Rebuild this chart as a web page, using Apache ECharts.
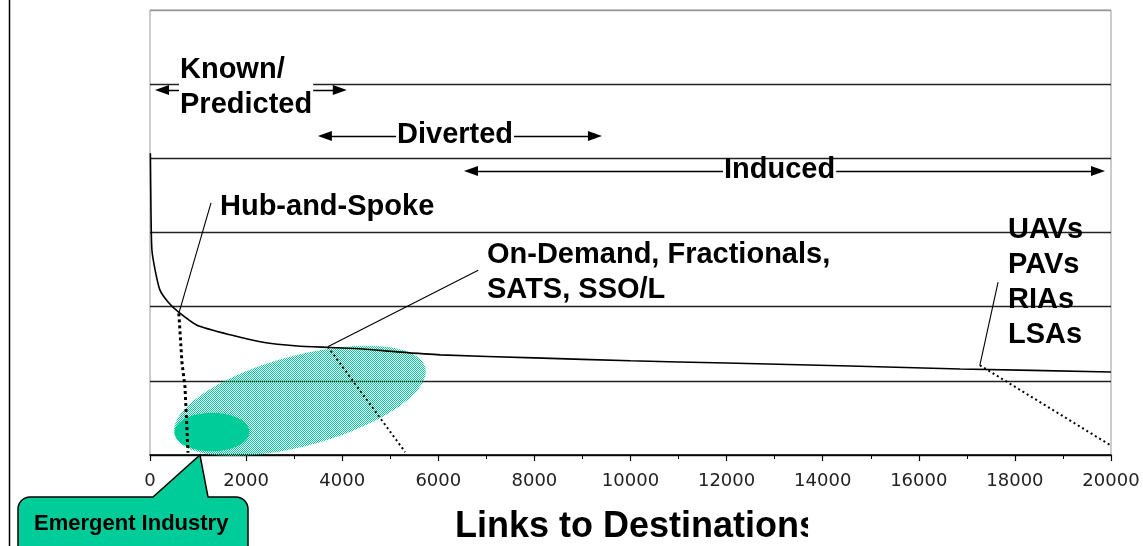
<!DOCTYPE html>
<html><head><meta charset="utf-8">
<script src="https://cdn.jsdelivr.net/npm/echarts@6/dist/echarts.min.js"></script>
<style>html,body{margin:0;padding:0;background:#fff}#c{width:1143px;height:546px}</style>
</head><body><div id="c"></div>
<script>
// ---- data ----
const xTickValues = [0, 2000, 4000, 6000, 8000, 10000, 12000, 14000, 16000, 18000, 20000];
const curveX = [8, 20, 40, 120, 210, 380, 590, 980, 1670, 2350, 3060, 3750, 4430, 5140, 6040, 8000, 10000, 12000, 14570, 16860, 20000];
const curveY = [4.07, 3.30, 2.76, 2.45, 2.22, 2.06, 1.93, 1.75, 1.62, 1.52, 1.47, 1.45, 1.43, 1.39, 1.35, 1.31, 1.27, 1.24, 1.20, 1.16, 1.12];
const hubLeaderX = [1270, 600];   const hubLeaderY = [3.40, 1.91];
const hubDottedX = [600, 666, 728, 791]; const hubDottedY = [1.91, 1.24, 0.92, 0.03];
const odLeaderX = [6830, 3700];   const odLeaderY = [2.49, 1.46];
const odDottedX = [3700, 5310];   const odDottedY = [1.46, 0.04];
const uavLeaderX = [17650, 17270]; const uavLeaderY = [2.33, 1.21];
const uavDottedX = [17270, 19980]; const uavDottedY = [1.21, 0.135];
const rangeStart = [250, 3640, 6680];
const rangeEnd = [3950, 9260, 19730];
const rangeLevel = [4.92, 4.30, 3.83];
const ellipseCX = [3120, 1290];
const ellipseCY = [0.73, 0.31];
const ellipseRX = [2700, 780];
const ellipseRY = [0.61, 0.26];
const ellipseTilt = [15, 0];
const calloutTip = [1040, 0];
const labelsRange = ['Known/\nPredicted', 'Diverted', 'Induced'];
const labelHub = 'Hub-and-Spoke';
const labelOD = 'On-Demand, Fractionals,\nSATS, SSO/L';
const labelUAV = 'UAVs\nPAVs\nRIAs\nLSAs';
const labelCallout = 'Emergent Industry';
const axisTitle = 'Links to Destinations';

const TEAL = '#00CC99';
const FONT = '"Liberation Sans", Arial, sans-serif';

const pc = document.createElement('canvas');
pc.width = 2; pc.height = 2;
const pg = pc.getContext('2d');
pg.fillStyle = TEAL; pg.fillRect(0, 0, 1, 1); pg.fillRect(1, 1, 1, 1);
const hatch = { image: pc, repeat: 'repeat' };

const zip = (xs, ys) => xs.map((x, i) => [x, ys[i]]);
const lineSeries = (xs, ys, width, type) => ({
  type: 'line', data: zip(xs, ys), showSymbol: false, silent: true, z: 4,
  lineStyle: { color: '#000', width: width, type: type }, animation: false
});

const chart = echarts.init(document.getElementById('c'));
chart.setOption({
  animation: false,
  grid: { left: 150, right: 32, top: 10, bottom: 91, show: true, borderColor: '#999', borderWidth: 1 },
  xAxis: {
    type: 'value', min: 0, max: 20000, interval: 2000,
    axisLine: { lineStyle: { color: '#000', width: 1.5 } },
    axisTick: { show: true, length: 6, lineStyle: { color: '#000', width: 1.2 } },
    minorTick: { show: true, splitNumber: 2, length: 4, lineStyle: { color: '#000', width: 1 } },
    splitLine: { show: false },
    axisLabel: { color: '#222', fontFamily: '"DejaVu Sans", sans-serif', fontSize: 18, margin: 17,
      formatter: v => xTickValues.includes(v) ? String(v) : '' }
  },
  yAxis: {
    type: 'value', min: 0, max: 6, interval: 1,
    axisLine: { show: false }, axisTick: { show: false }, axisLabel: { show: false },
    splitLine: { show: true, lineStyle: { color: ['#222', '#222', '#222', '#222', '#222', '#222', '#999'], width: 1.3 } }
  },
  series: [
    {
      type: 'custom', silent: true, z: 1,
      data: ellipseCX.map((x, i) => [x, ellipseCY[i], ellipseRX[i], ellipseRY[i], ellipseTilt[i], i]),
      renderItem: (params, api) => {
        const c = api.coord([api.value(0), api.value(1)]);
        const s = api.size([api.value(2), api.value(3)]);
        const t = api.value(4) * Math.PI / 180;
        const pts = [];
        for (let k = 0; k < 120; k++) {
          const a = 2 * Math.PI * k / 120;
          const px = s[0] * Math.cos(a), py = s[1] * Math.sin(a);
          pts.push([c[0] + px * Math.cos(t) + py * Math.sin(t), c[1] - px * Math.sin(t) + py * Math.cos(t)]);
        }
        return { type: 'polygon', shape: { points: pts }, style: { fill: api.value(5) === 0 ? hatch : TEAL } };
      }
    },
    Object.assign(lineSeries(curveX, curveY, 1.6, 'solid'), { smooth: 0.2 }),
    lineSeries(hubLeaderX, hubLeaderY, 1.1, 'solid'),
    lineSeries(odLeaderX, odLeaderY, 1.1, 'solid'),
    lineSeries(uavLeaderX, uavLeaderY, 1.1, 'solid'),
    lineSeries(hubDottedX, hubDottedY, 3, [3, 3]),
    lineSeries(odDottedX, odDottedY, 2, [2, 3]),
    lineSeries(uavDottedX, uavDottedY, 2, [2, 3]),
    {
      type: 'line', data: [], silent: true, z: 5,
      markLine: {
        silent: true, symbol: ['triangle', 'triangle'], symbolSize: [10, 14],
        label: { show: false },
        lineStyle: { color: '#000', width: 1.3, type: 'solid' },
        data: rangeStart.map((s, i) => [{ coord: [s, rangeLevel[i]] }, { coord: [rangeEnd[i], rangeLevel[i]] }])
      }
    }
  ]
});

const tip = chart.convertToPixel({ gridIndex: 0 }, calloutTip);
const ctx = document.createElement('canvas').getContext('2d');
ctx.font = 'bold 36px "Liberation Sans"';
const titleLeft = 455;
const maskX = titleLeft + ctx.measureText('Links to Destination').width + ctx.measureText('s').width * 0.45;

// callout outline (rounded box with pointer)
const bx0 = 18, bx1 = 248, by0 = 497, by1 = 560, br = 12;
const callPts = [[bx0 + br, by0], [153, by0], [tip[0], tip[1]], [208, by0], [bx1 - br, by0]];
for (let k = 1; k <= 8; k++) { const a = -Math.PI / 2 + k * Math.PI / 16; callPts.push([bx1 - br + br * Math.cos(a), by0 + br + br * Math.sin(a)]); }
callPts.push([bx1, by1], [bx0, by1]);
for (let k = 0; k < 8; k++) { const a = Math.PI + k * Math.PI / 16; callPts.push([bx0 + br + br * Math.cos(a), by0 + br + br * Math.sin(a)]); }

const txt = (text, x, y, size, extra) => ({
  type: 'text', x: x, y: y, z: 100,
  style: Object.assign({ text: text, fontFamily: FONT, fontWeight: 'bold', fontSize: size, fill: '#000',
    align: 'left', verticalAlign: 'middle' }, extra || {})
});

chart.setOption({
  graphic: [
    { type: 'line', z: 100, shape: { x1: 9.5, y1: 0, x2: 9.5, y2: 546 }, style: { stroke: '#000', lineWidth: 1.5 } },
    txt(labelsRange[0], 179, 87, 29, { lineHeight: 35, backgroundColor: '#fff', padding: [0, 1, 0, 1] }),
    txt(labelsRange[1], 396, 135, 29, { backgroundColor: '#fff', padding: [0, 1, 0, 1] }),
    txt(labelsRange[2], 723, 170, 29, { lineHeight: 20, backgroundColor: '#fff', padding: [0, 1, 0, 1] }),
    txt(labelHub, 220, 207, 29),
    txt(labelOD, 487, 272, 29, { lineHeight: 35 }),
    txt(labelUAV, 1008, 282, 29, { lineHeight: 35 }),
    { type: 'polygon', z: 100, shape: { points: callPts }, style: { fill: TEAL, stroke: '#000', lineWidth: 1.5 } },
    txt(labelCallout, 34, 524, 22),
    txt(axisTitle, titleLeft, 527, 36),
    { type: 'rect', z: 101, shape: { x: maskX, y: 500, width: 80, height: 46 }, style: { fill: '#fff' } }
  ]
});
</script>
</body></html>
